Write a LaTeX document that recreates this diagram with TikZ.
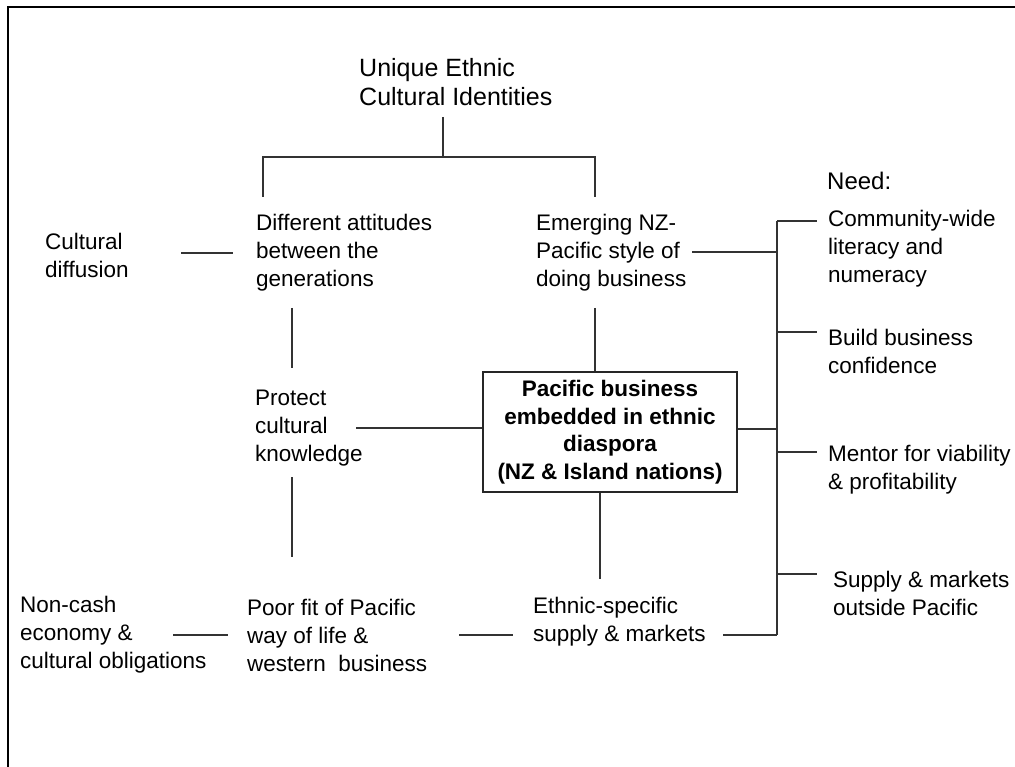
\documentclass[tikz,border=0pt]{standalone}
\usepackage{fontspec}
\setmainfont{Liberation Sans}
\usetikzlibrary{calc}
\begin{document}
\begin{tikzpicture}[x=1pt,y=-1pt,
  lbl/.style={anchor=west, align=left, inner sep=0pt, font=\fontsize{22.5}{28}\selectfont},
  head/.style={lbl, font=\fontsize{25}{29}\selectfont},
  link/.style={draw=black!80, line width=1.1pt},
  hub/.style={draw=black!85, line width=1.3pt, fill=white, minimum width=254pt,
    minimum height=120pt, inner sep=0pt, align=center,
    font=\bfseries\fontsize{22.5}{27.5}\selectfont},
  frame/.style={draw=black, line width=2pt}]
\useasboundingbox (0,0) rectangle (1015,767);
% outer frame (top and left edges)
\draw[frame] (8,767) -- (8,7) -- (1015,7);

% labels
\node[head] (roots) at (359,82.5) {Unique Ethnic\\Cultural Identities};
\node[head, font=\fontsize{24}{28}\selectfont] (need) at (827,181) {Need:};
\node[lbl] (diff) at (45,255) {Cultural\\diffusion};
\node[lbl] (gen) at (256,253) {Different attitudes\\between the\\generations};
\node[lbl] (style) at (536,253) {Emerging NZ-\\Pacific style of\\doing business};
\node[lbl] (prot) at (255,428) {Protect\\cultural\\knowledge};
\node[hub] (hub) at (610,432) {Pacific business\\embedded in ethnic\\diaspora\\(NZ \& Island nations)};
\node[lbl] (cash) at (20,635) {Non-cash\\economy \&\\cultural obligations};
\node[lbl] (fit) at (247,635) {Poor fit of Pacific\\way of life \&\\western~ business};
\node[lbl] (mkts) at (533,621.5) {Ethnic-specific\\supply \& markets};
\node[lbl] (lit) at (828,249) {Community-wide\\literacy and\\numeracy};
\node[lbl] (conf) at (828,351) {Build business\\confidence};
\node[lbl] (ment) at (828,470) {Mentor for viability\\\& profitability};
\node[lbl] (outs) at (833,593.5) {Supply \& markets\\outside Pacific};

% tree below the heading
\coordinate (t0) at (443,117);
\coordinate (tj) at (443,157);
\coordinate (tl) at (263,197);
\coordinate (tr) at (595,197);
\draw[link] (t0) -- (tj);
\draw[link] (tl) -- (tl |- tj) -- (tr |- tj) -- (tr);

% right-hand bracket of needs
\coordinate (b1) at (777,221);
\coordinate (b2) at (777,332);
\coordinate (b3) at (777,429);
\coordinate (b4) at (777,452);
\coordinate (b5) at (777,574);
\coordinate (b6) at (777,635);
\draw[link] (b1) -- (b6);
\draw[link, shorten >=11pt] (b1) -- (b1 -| lit.west);
\draw[link, shorten >=11pt] (b2) -- (b2 -| conf.west);
\draw[link, shorten >=11pt] (b4) -- (b4 -| ment.west);
\draw[link, shorten >=16pt] (b5) -- (b5 -| outs.west);
\coordinate (s1) at (692,252);
\draw[link] (s1) -- (s1 -| b1);
\draw[link] (hub.east |- b3) -- (b3);
\coordinate (m1) at (723,635);
\draw[link] (m1) -- (b6);

% left-hand links
\coordinate (d1) at (181,253);
\coordinate (d2) at (233,253);
\draw[link] (d1) -- (d2);
\coordinate (g1) at (292,308);
\coordinate (g2) at (292,368);
\draw[link] (g1) -- (g2);
\coordinate (g3) at (292,477);
\coordinate (g4) at (292,557);
\draw[link] (g3) -- (g4);
\coordinate (p1) at (356,428);
\draw[link] (p1) -- (p1 -| hub.west);

% links around the central box
\coordinate (c1) at (595,308);
\draw[link] (c1) -- (c1 |- hub.north);
\coordinate (c2) at (600,579);
\draw[link] (c2 |- hub.south) -- (c2);

% bottom row links
\coordinate (e1) at (173,635);
\coordinate (e2) at (228,635);
\draw[link] (e1) -- (e2);
\coordinate (f1) at (459,635);
\coordinate (f2) at (513,635);
\draw[link] (f1) -- (f2);
\end{tikzpicture}
\end{document}
